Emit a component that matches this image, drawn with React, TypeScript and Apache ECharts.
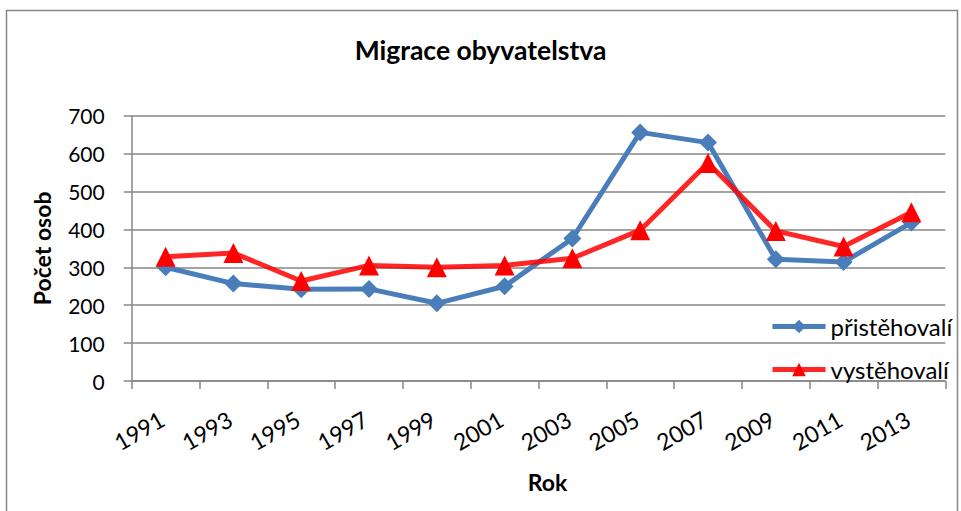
import React, { useEffect, useRef } from "react";
import * as echarts from "echarts";

const years = ["1991", "1993", "1995", "1997", "1999", "2001", "2003", "2005", "2007", "2009", "2011", "2013"];
const prist = [300, 257, 242, 243, 205, 250, 376, 656, 629, 321, 314, 418];
const vyst = [328, 338, 264, 305, 300, 305, 324, 398, 575, 396, 355, 445];
const seriesNames = ["přistěhovalí", "vystěhovalí"];

const FONT = "Lato, 'Open Sans', sans-serif";
const GRAY = "#868686";

export default function App() {
  const ref = useRef<HTMLDivElement>(null);
  useEffect(() => {
    const chart = echarts.init(ref.current!, null, { renderer: "svg" });
    chart.setOption({
      animation: false,
      backgroundColor: "#fff",
      textStyle: { fontFamily: FONT },
      title: {
        text: "Migrace obyvatelstva",
        left: "center",
        top: 31,
        textStyle: { fontFamily: FONT, fontSize: 26.5, fontWeight: "bold", color: "#000" },
      },
      graphic: [
        {
          type: "rect",
          shape: { x: 6.5, y: 10.5, width: 951, height: 530 },
          style: { fill: "none", stroke: GRAY, lineWidth: 1.5 },
          silent: true,
          z: -1,
        },
      ],
      grid: { left: 131.7, right: 15.7, top: 115.7, bottom: 130 },
      legend: {
        orient: "vertical",
        left: 765,
        top: 309,
        itemWidth: 53,
        itemHeight: 17,
        itemGap: 18,
        data: seriesNames,
        lineStyle: { width: 5 },
        textStyle: { fontFamily: FONT, fontSize: 24, lineHeight: 25, color: "#000" },
      },
      xAxis: {
        type: "category",
        data: years,
        boundaryGap: true,
        name: "Rok",
        nameLocation: "middle",
        nameGap: 89,
        nameTextStyle: { fontFamily: FONT, fontSize: 23, fontWeight: "bold", color: "#000", padding: [0, 0, 0, 18] },
        axisLine: { lineStyle: { color: GRAY, width: 1.5 } },
        axisTick: { show: true, length: 8, lineStyle: { color: GRAY, width: 1.5 }, alignWithLabel: false },
        axisLabel: {
          rotate: 30,
          margin: 34,
          fontFamily: FONT,
          fontSize: 23,
          color: "#000",
          interval: 0,
          padding: [0, 4, 0, 0],
        },
      },
      yAxis: {
        type: "value",
        min: 0,
        max: 700,
        interval: 100,
        name: "Počet osob",
        nameLocation: "middle",
        nameGap: 78,
        nameTextStyle: { fontFamily: FONT, fontSize: 23, fontWeight: "bold", color: "#000" },
        axisLine: { show: true, lineStyle: { color: GRAY, width: 1.5 } },
        axisTick: { show: true, length: 8, lineStyle: { color: GRAY, width: 1.5 } },
        splitLine: { show: true, lineStyle: { color: GRAY, width: 1.5 } },
        axisLabel: { margin: 27, fontFamily: FONT, fontSize: 21, color: "#000" },
      },
      series: [
        {
          name: seriesNames[0],
          type: "line",
          data: prist,
          symbol: "diamond",
          symbolSize: 18,
          lineStyle: { color: "#4a7ebb", width: 5 },
          itemStyle: { color: "#4a7ebb" },
          z: 2,
        },
        {
          name: seriesNames[1],
          type: "line",
          data: vyst,
          symbol: "triangle",
          symbolSize: 20,
          lineStyle: { color: "rgba(255,0,0,0.85)", width: 5 },
          itemStyle: { color: "#ff0000" },
          z: 3,
        },
      ],
    });
    return () => chart.dispose();
  }, []);
  return <div ref={ref} style={{ position: "fixed", left: 0, top: 0, width: 961, height: 511 }} />;
}
